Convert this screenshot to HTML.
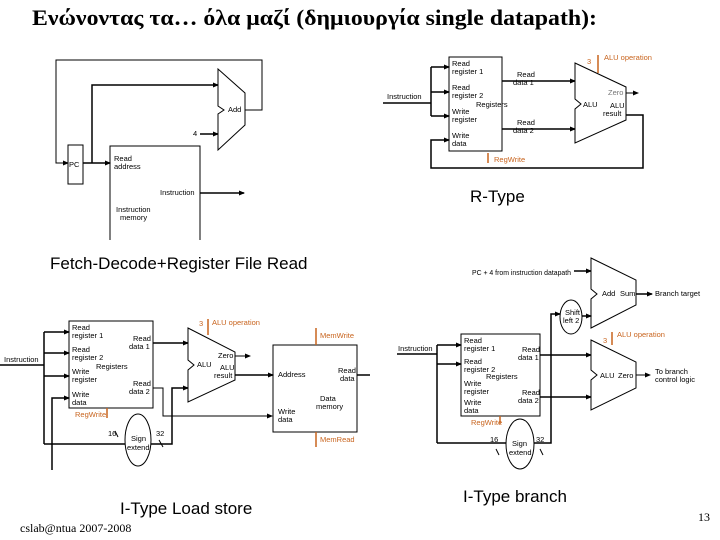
<!DOCTYPE html>
<html><head><meta charset="utf-8"><style>
html,body{margin:0;padding:0;background:#fff;}
svg{display:block;}
text{font-family:"Liberation Sans",sans-serif;fill:#000;}
.s{font-size:7.5px;}
.o{fill:#c8641e;font-size:7.5px;}
</style></head><body>
<svg width="720" height="540" viewBox="0 0 720 540" xmlns="http://www.w3.org/2000/svg">
<defs><marker id="a" markerWidth="6" markerHeight="6" refX="5" refY="3" orient="auto" markerUnits="userSpaceOnUse"><path d="M0,0.5 L6,3 L0,5.5z" fill="#000"/></marker></defs>
<text x="32" y="25" style="font-family:'Liberation Serif',serif;font-weight:bold;font-size:22px" textLength="565" lengthAdjust="spacingAndGlyphs">Ενώνοντας τα… όλα μαζί (δημιουργία single datapath):</text>

<g stroke="#000" fill="none" stroke-width="1">
<!-- Fetch -->
<polyline points="245,110 262,110 262,60 56,60 56,163 68,163" marker-end="url(#a)"/>
<polyline points="92,163 92,85 218,85" stroke-width="1.5" marker-end="url(#a)"/>
<line x1="83" y1="163" x2="110" y2="163" stroke-width="1.5" marker-end="url(#a)"/>
<line x1="200" y1="134" x2="218" y2="134" stroke-width="1.5" marker-end="url(#a)"/>
<polygon points="218,69 245,93 245,125 218,150 218,114 224,110 218,106" fill="#fff"/>
<rect x="68" y="145" width="15" height="39" fill="#fff"/>
<polyline points="110,240 110,146 200,146 200,240"/>
<line x1="200" y1="193" x2="244" y2="193" stroke-width="1.5" marker-end="url(#a)"/>

<!-- R-Type -->
<line x1="383" y1="103" x2="431" y2="103" stroke-width="1.5"/>
<line x1="431" y1="67" x2="431" y2="116" stroke-width="1.5"/>
<line x1="431" y1="67" x2="449" y2="67" stroke-width="1.5" marker-end="url(#a)"/>
<line x1="431" y1="92" x2="449" y2="92" stroke-width="1.5" marker-end="url(#a)"/>
<line x1="431" y1="116" x2="449" y2="116" stroke-width="1.5" marker-end="url(#a)"/>
<polyline points="626,115 643,115 643,168 431,168 431,140 449,140" stroke-width="1.5" marker-end="url(#a)"/>
<rect x="449" y="57" width="53" height="94"/>
<line x1="502" y1="81" x2="575" y2="81" stroke-width="1.5" marker-end="url(#a)"/>
<line x1="502" y1="129" x2="575" y2="129" stroke-width="1.5" marker-end="url(#a)"/>
<polygon points="575,63 626,87 626,120 575,143 575,109 581,104 575,99" fill="#fff"/>
<line x1="626" y1="93" x2="638" y2="93" marker-end="url(#a)"/>

<!-- Load store -->
<line x1="0" y1="365" x2="44" y2="365" stroke-width="1.5"/>
<line x1="44" y1="332" x2="44" y2="444" stroke-width="1.5"/>
<line x1="44" y1="332" x2="69" y2="332" stroke-width="1.5" marker-end="url(#a)"/>
<line x1="44" y1="353" x2="69" y2="353" stroke-width="1.5" marker-end="url(#a)"/>
<line x1="44" y1="376" x2="69" y2="376" stroke-width="1.5" marker-end="url(#a)"/>
<polyline points="52,470 52,398 69,398" stroke-width="1.5" marker-end="url(#a)"/>
<line x1="44" y1="444" x2="125" y2="444" stroke-width="1.5"/>
<rect x="69" y="321" width="84" height="87"/>
<ellipse cx="138" cy="440" rx="13" ry="26" fill="#fff"/>
<polyline points="151,444 172,444 172,388 188,388" stroke-width="1.5" marker-end="url(#a)"/>
<polyline points="153,388 163,388 163,416 272,416" marker-end="url(#a)"/>
<line x1="153" y1="343" x2="188" y2="343" stroke-width="1.5" marker-end="url(#a)"/>
<polygon points="188,328 235,352 235,380 188,402 188,370 194,365 188,360" fill="#fff"/>
<line x1="235" y1="356" x2="250" y2="356" marker-end="url(#a)"/>
<line x1="235" y1="375" x2="273" y2="375" stroke-width="1.5" marker-end="url(#a)"/>
<rect x="273" y="345" width="84" height="87"/>
<line x1="357" y1="375" x2="370" y2="375" stroke-width="1.5"/>
<line x1="115" y1="431" x2="118" y2="437"/><line x1="159" y1="440" x2="163" y2="447"/>

<!-- Branch -->
<line x1="574" y1="271" x2="591" y2="271" stroke-width="1.5" marker-end="url(#a)"/>
<polygon points="591,258 636,280 636,305 591,328 591,299 597,294 591,289" fill="#fff"/>
<line x1="636" y1="294" x2="652" y2="294" stroke-width="1.5" marker-end="url(#a)"/>
<ellipse cx="571" cy="317" rx="11" ry="17" fill="#fff"/>
<line x1="582" y1="316" x2="591" y2="316" stroke-width="1.5" marker-end="url(#a)"/>
<polyline points="534,443 551,443 551,314 560,314" stroke-width="1.5" marker-end="url(#a)"/>
<line x1="397" y1="354" x2="437" y2="354" stroke-width="1.5"/>
<line x1="437" y1="345" x2="437" y2="443" stroke-width="1.5"/>
<line x1="437" y1="345" x2="461" y2="345" stroke-width="1.5" marker-end="url(#a)"/>
<line x1="437" y1="364" x2="461" y2="364" stroke-width="1.5" marker-end="url(#a)"/>
<line x1="437" y1="443" x2="506" y2="443" stroke-width="1.5"/>
<rect x="461" y="334" width="79" height="82"/>
<ellipse cx="520" cy="444" rx="14" ry="25" fill="#fff"/>
<line x1="540" y1="355" x2="591" y2="355" stroke-width="1.5" marker-end="url(#a)"/>
<line x1="540" y1="397" x2="591" y2="397" stroke-width="1.5" marker-end="url(#a)"/>
<polygon points="591,340 636,362 636,388 591,410 591,380 597,375 591,370" fill="#fff"/>
<line x1="636" y1="375" x2="650" y2="375" marker-end="url(#a)"/>
<line x1="496" y1="449" x2="499" y2="455"/><line x1="540" y1="449" x2="543" y2="455"/>
</g>

<g stroke="#c8641e" stroke-width="1.5">
<line x1="598" y1="55" x2="598" y2="73"/><line x1="488" y1="153" x2="488" y2="163"/>
<line x1="208" y1="319" x2="208" y2="335"/><line x1="107" y1="408" x2="107" y2="418"/>
<line x1="316" y1="328" x2="316" y2="345"/><line x1="316" y1="432" x2="316" y2="447"/>
<line x1="612" y1="332" x2="612" y2="345"/><line x1="500" y1="416" x2="500" y2="424"/>
</g>

<!-- Fetch text -->
<text x="69" y="167" class="s">PC</text>
<text x="228" y="112" class="s">Add</text>
<text x="193" y="136" class="s">4</text>
<text x="114" y="161" class="s">Read</text><text x="114" y="169" class="s">address</text>
<text x="160" y="195" class="s">Instruction</text>
<text x="116" y="212" class="s">Instruction</text><text x="120" y="220" class="s">memory</text>

<!-- R text -->
<text x="387" y="99" class="s">Instruction</text>
<text x="452" y="66" class="s">Read</text><text x="452" y="74" class="s">register 1</text>
<text x="452" y="90" class="s">Read</text><text x="452" y="98" class="s">register 2</text>
<text x="476" y="107" class="s">Registers</text>
<text x="452" y="114" class="s">Write</text><text x="452" y="122" class="s">register</text>
<text x="452" y="138" class="s">Write</text><text x="452" y="146" class="s">data</text>
<text x="517" y="77" class="s">Read</text><text x="513" y="85" class="s">data 1</text>
<text x="517" y="125" class="s">Read</text><text x="513" y="133" class="s">data 2</text>
<text x="583" y="107" class="s">ALU</text>
<text x="608" y="95" class="s" style="fill:#777">Zero</text>
<text x="610" y="108" class="s">ALU</text><text x="603" y="116" class="s">result</text>
<text x="587" y="64" class="o">3</text><text x="604" y="60" class="o">ALU operation</text>
<text x="494" y="162" class="o">RegWrite</text>
<text x="470" y="202" style="font-size:17px">R-Type</text>
<text x="50" y="269" style="font-size:17px">Fetch-Decode+Register File Read</text>

<!-- Load store text -->
<text x="4" y="362" class="s">Instruction</text>
<text x="72" y="330" class="s">Read</text><text x="72" y="338" class="s">register 1</text>
<text x="72" y="352" class="s">Read</text><text x="72" y="360" class="s">register 2</text>
<text x="96" y="369" class="s">Registers</text>
<text x="72" y="374" class="s">Write</text><text x="72" y="382" class="s">register</text>
<text x="72" y="397" class="s">Write</text><text x="72" y="405" class="s">data</text>
<text x="133" y="341" class="s">Read</text><text x="129" y="349" class="s">data 1</text>
<text x="133" y="386" class="s">Read</text><text x="129" y="394" class="s">data 2</text>
<text x="197" y="367" class="s">ALU</text>
<text x="218" y="358" class="s">Zero</text>
<text x="220" y="370" class="s">ALU</text><text x="214" y="378" class="s">result</text>
<text x="199" y="326" class="o">3</text><text x="212" y="325" class="o">ALU operation</text>
<text x="75" y="417" class="o">RegWrite</text>
<text x="320" y="338" class="o">MemWrite</text><text x="320" y="442" class="o">MemRead</text>
<text x="278" y="377" class="s">Address</text>
<text x="338" y="373" class="s">Read</text><text x="340" y="381" class="s">data</text>
<text x="320" y="401" class="s">Data</text><text x="316" y="409" class="s">memory</text>
<text x="278" y="414" class="s">Write</text><text x="278" y="422" class="s">data</text>
<text x="108" y="436" class="s">16</text><text x="156" y="436" class="s">32</text>
<text x="131" y="441" class="s">Sign</text><text x="127" y="450" class="s">extend</text>
<text x="120" y="514" style="font-size:17px">I-Type Load store</text>
<text x="20" y="532" style="font-family:'Liberation Serif',serif;font-size:12px">cslab@ntua 2007-2008</text>

<!-- Branch text -->
<text x="472" y="275" class="s" textLength="99" lengthAdjust="spacingAndGlyphs">PC + 4 from instruction datapath</text>
<text x="602" y="296" class="s">Add</text><text x="620" y="296" class="s">Sum</text>
<text x="655" y="296" class="s">Branch target</text>
<text x="565" y="315" class="s">Shift</text><text x="563" y="323" class="s">left 2</text>
<text x="398" y="351" class="s">Instruction</text>
<text x="464" y="343" class="s">Read</text><text x="464" y="351" class="s">register 1</text>
<text x="464" y="364" class="s">Read</text><text x="464" y="372" class="s">register 2</text>
<text x="486" y="379" class="s">Registers</text>
<text x="464" y="386" class="s">Write</text><text x="464" y="394" class="s">register</text>
<text x="464" y="405" class="s">Write</text><text x="464" y="413" class="s">data</text>
<text x="522" y="352" class="s">Read</text><text x="518" y="360" class="s">data 1</text>
<text x="522" y="395" class="s">Read</text><text x="518" y="403" class="s">data 2</text>
<text x="600" y="378" class="s">ALU</text><text x="618" y="378" class="s">Zero</text>
<text x="655" y="374" class="s">To branch</text><text x="655" y="382" class="s">control logic</text>
<text x="603" y="343" class="o">3</text><text x="617" y="337" class="o">ALU operation</text>
<text x="471" y="425" class="o">RegWrite</text>
<text x="490" y="442" class="s">16</text><text x="536" y="442" class="s">32</text>
<text x="512" y="446" class="s">Sign</text><text x="509" y="455" class="s">extend</text>
<text x="463" y="502" style="font-size:17px">I-Type branch</text>
<text x="698" y="521" style="font-family:'Liberation Serif',serif;font-size:12px">13</text>
</svg>
</body></html>
